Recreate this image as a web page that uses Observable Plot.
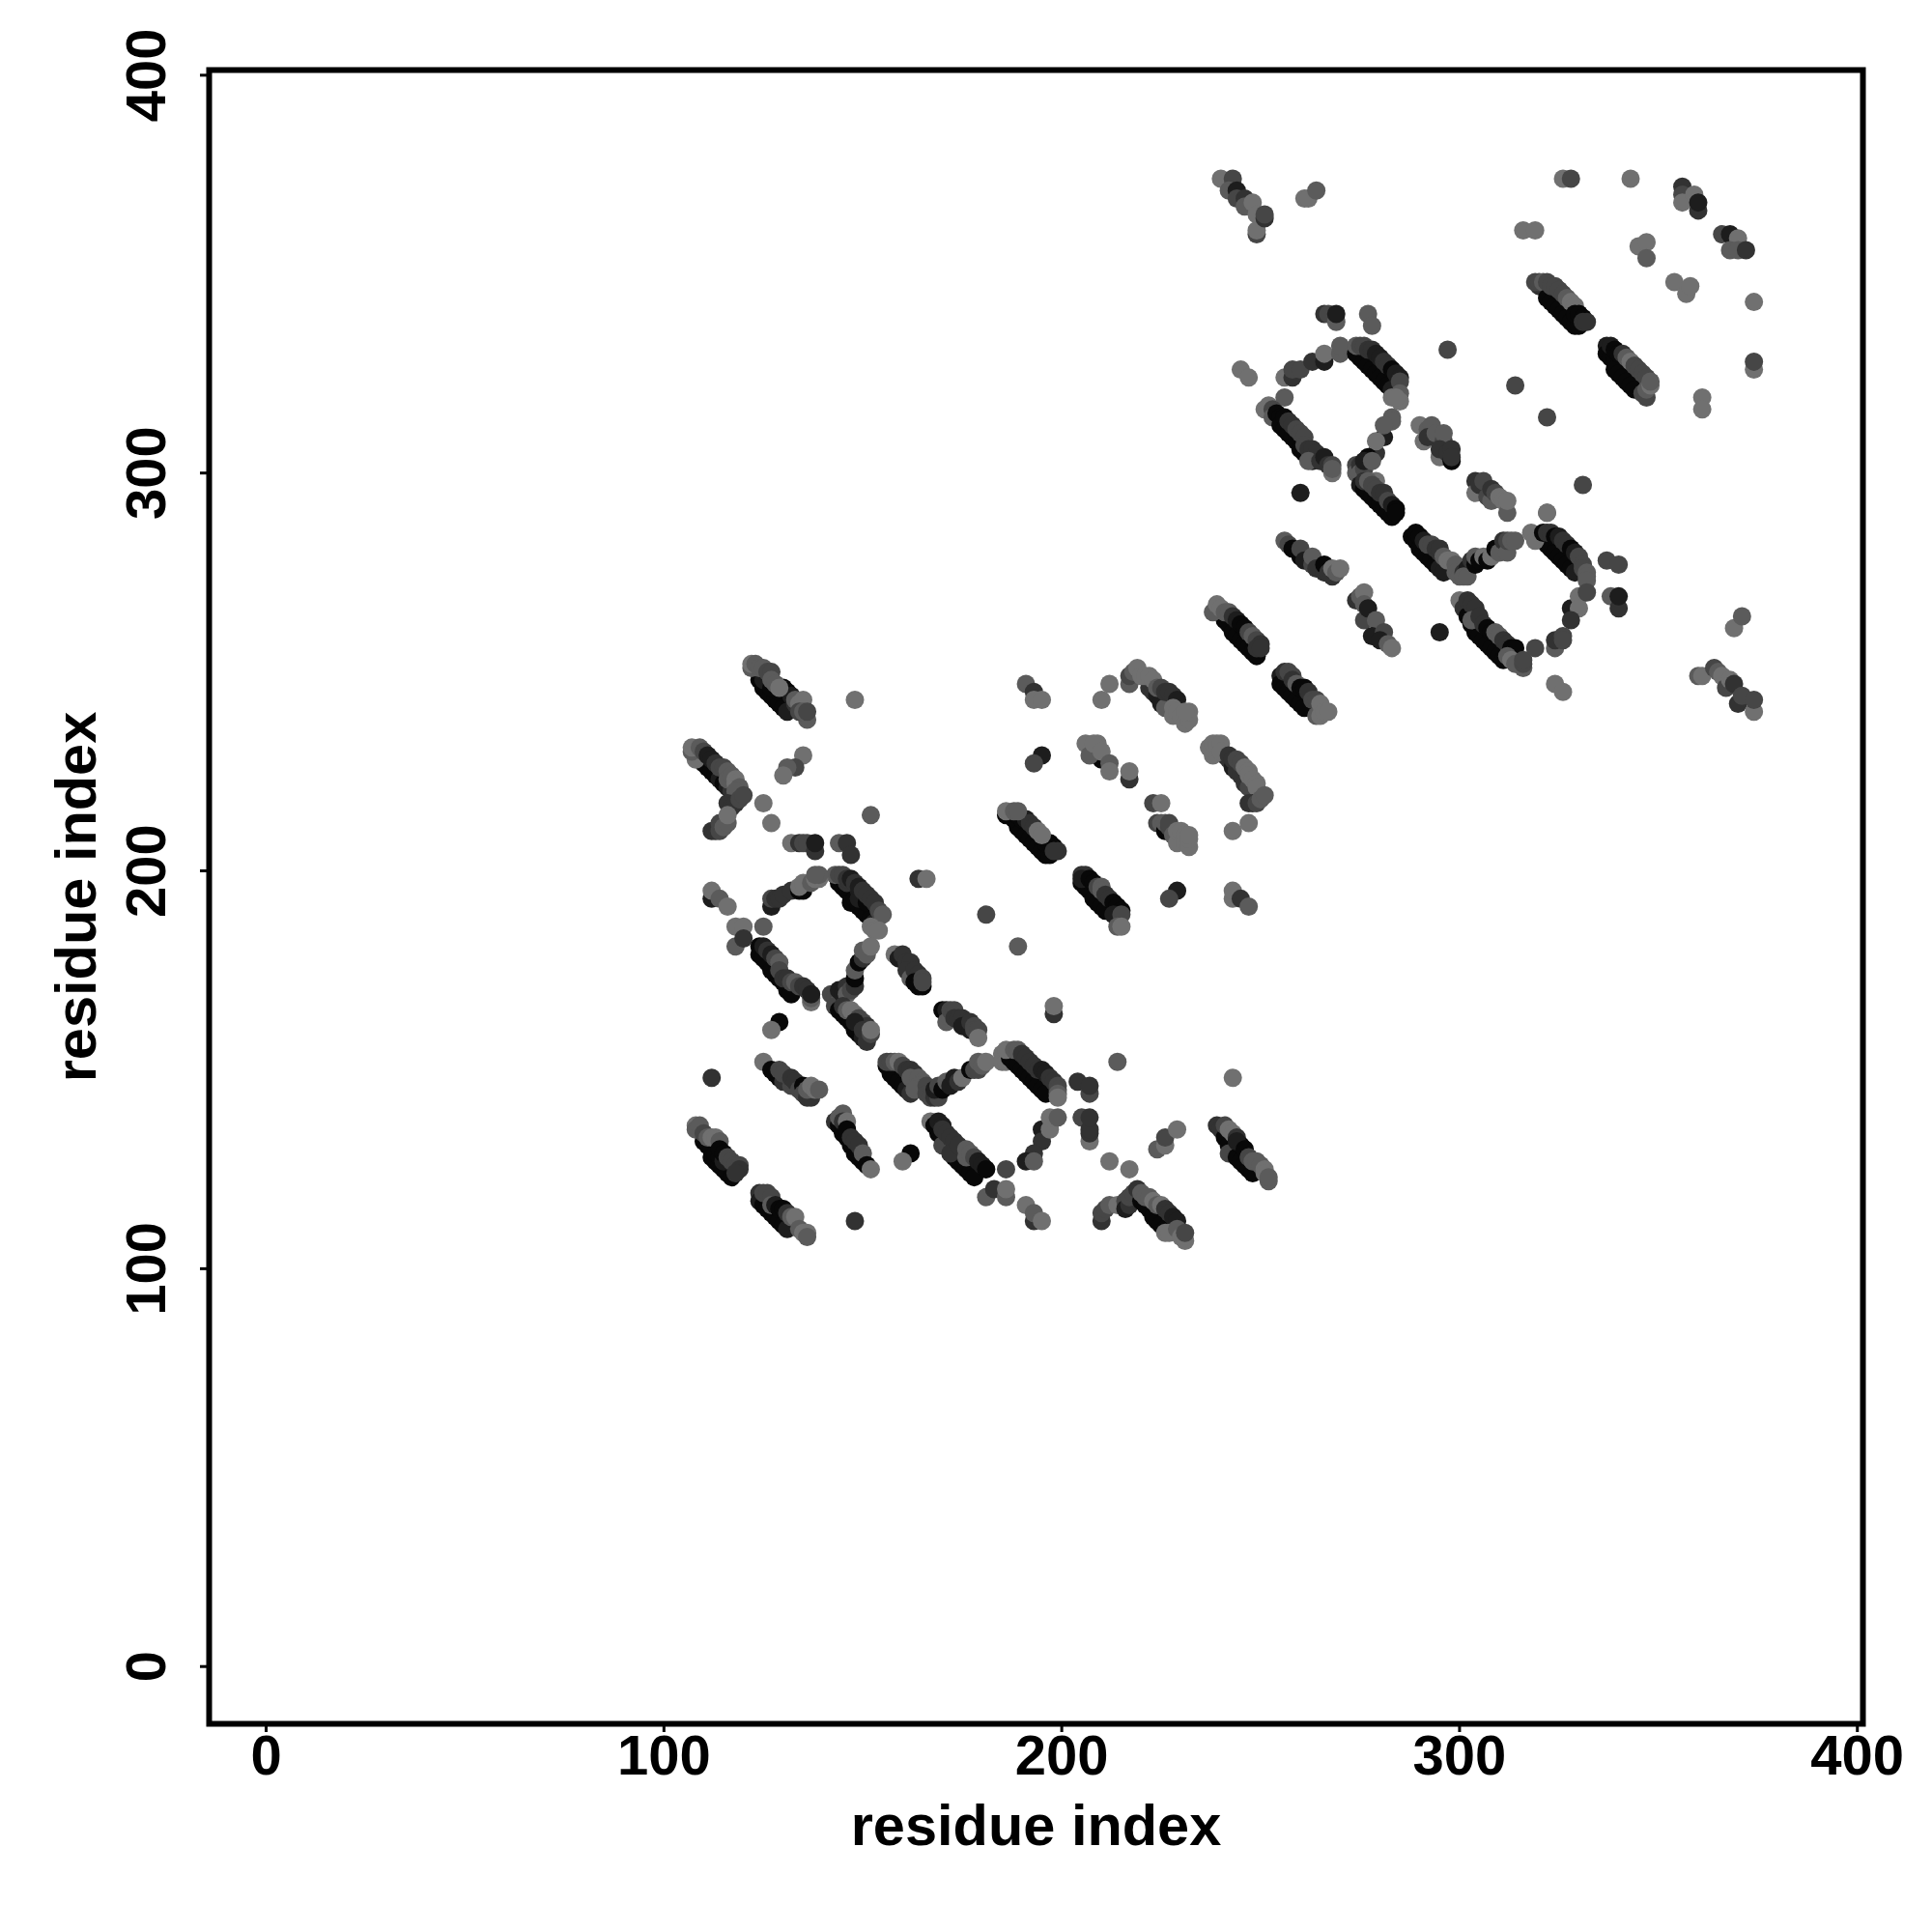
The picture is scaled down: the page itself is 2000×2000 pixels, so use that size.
<!DOCTYPE html>
<html><head><meta charset="utf-8">
<style>html,body{margin:0;padding:0;background:#fff}svg{display:block}</style>
<script src="https://cdn.jsdelivr.net/npm/d3@7"></script>
<script src="https://cdn.jsdelivr.net/npm/@observablehq/plot@0.6"></script>
</head><body><div id="chart"></div>
<script>
const xTicks=[0,100,200,300,400], yTicks=[0,100,200,300,400];
const axisTitle="residue index";
// each entry: [residue x, residue y, contact level 0..5]
const lowerA=[[124,248,5],[125,246,5],[126,245,5],[127,244,5],[128,243,5],[129,242,5],[130,241,5],[131,240,4],[125,248,4],[127,246,5],[129,245,5],[130,246,5],[131,245,5],[132,244,4],[133,242,3],[122,251,1],[122,252,0],[123,252,1],[124,251,1],[125,251,1],[126,250,2],[127,250,2],[127,248,1],[128,247,1],[129,246,0],[133,243,1],[134,242,0],[135,243,0],[136,238,1],[134,240,2],[135,240,1],[136,240,2],[148,243,0]];
const lowerB=[[110,227,5],[111,226,5],[112,225,5],[113,224,5],[114,223,4],[115,222,5],[116,221,4],[117,220,3],[108,228,0],[107,230,1],[107,231,0],[109,231,1],[110,230,2],[111,229,4],[112,228,4],[113,227,3],[114,226,2],[115,226,2],[116,225,1],[116,223,1],[117,224,1],[118,223,0],[118,222,0],[119,221,1],[118,220,1],[116,217,3],[117,216,3],[118,217,3],[119,218,2],[120,219,2],[112,210,3],[113,210,3],[114,210,2],[114,212,2],[115,211,1],[116,212,1],[116,214,0],[135,229,0],[133,226,2],[131,226,1],[130,224,0],[125,217,0],[127,212,0],[152,214,1]];
const lowerC=[[132,207,0],[134,207,3],[135,207,2],[136,207,2],[138,205,3],[138,207,4],[144,207,1],[146,207,3],[147,204,3],[112,193,4],[112,195,0],[114,193,1],[116,191,0],[164,198,3],[166,198,0],[181,189,2],[189,181,1]];
const lowerD=[[144,197,5],[145,196,5],[146,195,5],[147,194,5],[147,192,5],[148,193,5],[149,191,5],[150,190,5],[151,189,5],[152,188,5],[153,187,4],[146,197,3],[149,195,4],[149,193,4],[151,192,5],[143,199,1],[144,199,2],[145,199,2],[146,198,3],[147,198,4],[148,197,3],[149,196,4],[150,195,3],[151,194,3],[152,193,3],[153,192,3],[154,190,2],[155,189,1],[152,186,0],[153,185,0],[154,185,0],[127,191,4],[127,193,2],[128,193,3],[129,193,3],[130,194,3],[132,195,3],[134,195,5],[135,195,5],[134,196,0],[135,197,0],[137,197,1],[138,198,0],[139,198,0],[139,199,1],[138,199,1]];
const lowerE=[[118,186,0],[120,186,0],[125,186,1],[118,181,1],[120,183,3],[124,181,5],[124,179,5],[125,178,5],[126,177,5],[127,175,5],[128,174,5],[129,173,5],[130,172,5],[131,170,5],[132,169,5],[125,181,4],[126,180,3],[127,179,4],[128,178,2],[129,177,1],[129,175,2],[130,173,3],[131,173,3],[132,172,2],[133,172,1],[134,171,2],[135,171,3],[136,170,3],[137,167,0],[137,168,1],[137,169,4]];
const lowerF=[[142,169,2],[143,168,2],[144,167,1],[143,166,2],[144,170,4],[145,169,4],[146,171,3],[146,169,1],[147,170,2],[144,165,5],[145,164,5],[146,163,5],[147,162,5],[148,160,5],[149,159,5],[150,158,4],[151,157,3],[145,166,3],[146,165,1],[147,165,0],[148,164,0],[149,163,2],[150,162,2],[151,161,3],[148,162,4],[150,160,3],[152,159,2],[152,160,0],[148,171,3],[148,173,5],[148,175,1],[149,177,5],[150,178,3],[150,180,1],[151,179,1],[152,181,0]];
const lowerG=[[158,179,0],[159,178,4],[160,178,4],[160,179,3],[161,177,3],[162,177,3],[161,175,3],[162,173,1],[163,175,3],[164,174,3],[163,172,5],[164,171,5],[165,171,5],[165,173,2],[165,172,2],[170,165,5],[171,164,5],[171,165,4],[171,162,1],[172,163,1],[172,165,2],[173,165,2],[173,163,3],[174,163,3],[175,163,3],[176,162,3],[175,161,4],[177,160,4],[177,162,3],[178,161,2],[178,160,2],[179,160,2],[179,158,0]];
const lowerH=[[129,162,5],[127,160,0],[112,148,3],[125,152,0],[127,150,5],[128,149,5],[129,148,5],[130,147,3],[129,150,2],[130,149,2],[132,146,2],[132,148,3],[133,147,3],[134,145,2],[135,146,5],[135,144,2],[136,143,3],[137,143,3],[136,145,1],[137,146,0],[138,145,0],[139,145,1]];
const lowerI=[[143,137,3],[144,136,5],[144,138,1],[145,134,5],[146,133,5],[147,131,5],[148,129,5],[149,128,5],[150,127,5],[145,139,1],[145,137,3],[146,137,0],[146,135,5],[147,133,3],[148,132,3],[149,131,3],[150,129,1],[151,126,5],[152,125,0],[162,129,5],[160,127,0],[148,112,3]];
const lowerJ=[[156,151,5],[157,149,5],[158,148,5],[159,147,5],[160,146,5],[161,145,4],[162,144,3],[156,152,2],[157,152,2],[158,152,1],[159,152,0],[160,151,2],[161,150,3],[162,150,3],[163,149,3],[162,148,1],[164,148,1],[165,147,1],[164,146,1],[163,145,1],[166,146,2],[166,144,2],[167,143,2],[168,143,3],[169,143,2],[168,145,4],[169,146,2],[170,145,5],[171,147,1],[172,146,4],[173,148,4],[174,147,3],[175,148,0],[177,150,5],[178,150,2],[179,150,2],[179,152,1],[180,151,1],[181,152,0],[185,154,0],[185,152,0],[186,152,0]];
const lowerK=[[167,137,0],[168,136,5],[169,134,5],[170,133,5],[171,131,5],[172,130,5],[173,128,5],[174,127,5],[175,126,5],[176,125,5],[177,124,5],[178,123,5],[170,131,2],[169,137,4],[170,136,4],[170,135,3],[171,134,3],[172,133,3],[173,132,3],[172,129,3],[174,131,3],[176,128,1],[176,130,1],[177,129,1],[178,128,2],[179,127,4],[180,126,4],[181,125,5],[186,125,2],[181,118,1],[183,120,3],[186,118,1],[186,120,0],[191,116,0],[193,112,3],[193,114,1],[195,112,0]];
const lowerL=[[187,153,5],[188,152,5],[189,151,5],[190,150,5],[191,149,5],[192,148,5],[193,147,5],[194,146,5],[195,145,5],[196,144,5],[186,155,0],[188,155,1],[189,155,1],[190,154,3],[191,153,3],[192,152,3],[193,151,3],[194,150,3],[195,150,4],[196,149,4],[197,148,3],[198,147,3],[199,146,2],[199,145,2],[199,144,1],[199,143,0],[195,135,4],[195,132,3],[193,129,3],[191,127,4],[193,127,1],[197,135,0],[197,138,0],[199,138,1],[198,164,3],[198,166,0],[214,152,1],[243,148,0]];
const lowerM=[[204,147,3],[207,144,2],[207,146,3],[205,138,2],[207,132,0],[207,134,3],[207,135,3],[207,138,3],[212,127,0],[217,125,0],[224,130,1],[226,131,0],[226,133,2],[229,135,0]];
const lowerN=[[210,112,3],[210,114,2],[211,115,2],[212,116,1],[214,116,0],[216,117,2],[216,115,4],[217,116,3],[217,118,2],[218,119,2],[219,120,3],[220,117,5],[221,116,5],[222,115,5],[223,113,5],[224,112,5],[225,111,5],[226,110,5],[220,119,1],[221,118,1],[222,118,1],[223,117,0],[224,116,1],[225,116,0],[226,115,3],[227,114,3],[228,113,4],[229,112,4],[226,109,0],[227,109,0],[229,110,1],[230,108,0],[231,107,0],[231,109,2]];
const lowerO=[[110,132,5],[111,131,5],[112,130,5],[112,128,5],[113,127,5],[114,126,5],[115,125,5],[116,124,5],[117,123,5],[113,129,5],[114,128,5],[115,127,4],[108,136,0],[108,135,1],[109,136,1],[110,134,2],[111,133,1],[112,133,0],[113,133,0],[114,132,1],[114,130,5],[115,129,5],[116,128,2],[117,127,2],[118,126,2],[119,126,2],[119,125,3],[118,124,3]];
const lowerP=[[124,119,3],[124,117,4],[125,116,5],[126,115,5],[127,114,5],[128,113,5],[129,112,5],[130,111,5],[131,110,4],[125,119,2],[126,119,2],[127,118,2],[127,116,1],[128,116,4],[129,115,5],[130,115,5],[131,114,3],[132,113,1],[133,113,0],[134,110,1],[135,109,0],[136,109,0],[136,108,1]];
const lowerQ=[[239,136,3],[240,135,3],[241,133,5],[242,131,5],[243,130,5],[242,129,2],[244,128,5],[245,127,5],[246,126,5],[247,125,5],[248,124,5],[241,136,2],[242,135,0],[243,134,0],[244,133,3],[245,131,5],[244,132,4],[246,130,5],[247,128,2],[248,127,1],[249,127,1],[250,126,1],[251,125,0],[251,124,0],[252,122,1],[252,123,1]];
const middleA=[[191,247,1],[193,245,3],[193,243,0],[195,243,0],[212,247,0],[210,243,0],[217,247,1],[217,249,2],[218,250,1],[219,251,0],[222,246,3],[223,245,3],[224,244,4],[225,242,4],[226,241,1],[220,249,0],[221,249,0],[222,249,0],[223,248,0],[224,246,1],[225,246,2],[226,245,3],[227,245,3],[228,244,3],[229,243,4],[228,241,0],[228,239,0],[229,240,0],[230,239,0],[231,237,0],[232,238,0],[232,240,0],[231,240,0]];
const middleB=[[206,232,0],[210,228,5],[209,232,0],[207,229,1],[208,232,0],[210,230,0],[212,227,1],[212,225,0],[217,223,3],[217,225,0],[195,229,4],[193,227,2],[229,195,4],[227,193,2]];
const middleC=[[186,214,5],[188,213,5],[189,211,5],[190,210,5],[191,209,5],[192,208,5],[193,207,5],[194,206,5],[195,205,5],[196,204,5],[197,204,5],[189,214,5],[190,213,5],[191,213,4],[192,212,3],[193,211,3],[196,207,5],[197,207,5],[198,206,5],[186,215,0],[188,215,1],[189,215,1],[194,210,0],[195,209,0],[199,205,3],[198,205,3]];
const middleD=[[241,229,4],[242,228,3],[243,226,4],[244,225,3],[245,224,3],[246,222,3],[247,221,2],[238,229,0],[237,231,0],[238,232,0],[239,232,0],[240,232,0],[240,230,0],[242,229,3],[243,228,3],[244,228,2],[245,227,2],[246,226,0],[247,225,0],[247,224,0],[248,223,0],[249,222,0],[249,221,0],[248,217,3],[247,217,3],[249,217,2],[250,218,1],[251,219,1],[247,212,0],[243,210,0]];
const middleE=[[223,217,2],[225,217,0],[224,212,2],[225,212,1],[226,210,5],[226,212,1],[227,211,2],[227,212,2],[228,209,1],[229,207,0],[229,210,0],[230,210,0],[231,209,0],[231,207,0],[232,206,0],[232,208,0],[232,209,0],[243,193,0],[243,195,0],[245,193,3],[247,191,1]];
const middleF=[[205,197,5],[206,196,5],[207,195,5],[208,193,5],[209,192,5],[210,191,5],[211,190,5],[205,199,3],[206,199,3],[205,198,4],[207,198,5],[208,197,5],[209,196,2],[210,196,1],[210,195,1],[211,194,3],[212,193,3],[213,192,5],[214,191,5],[215,190,5],[213,189,4],[215,189,2],[214,186,1],[215,186,0]];
const middleG=[[255,249,4],[255,247,5],[256,246,5],[257,245,5],[258,244,5],[259,243,5],[260,242,5],[261,241,5],[256,250,3],[257,250,2],[258,249,2],[258,248,3],[259,247,1],[260,246,5],[261,246,5],[262,245,3],[263,243,2],[264,243,2],[264,239,1],[265,242,0],[265,239,0],[266,240,0],[267,240,0]];
const middleH=[[241,263,5],[241,265,2],[242,262,5],[243,260,5],[244,259,5],[245,258,5],[246,257,5],[247,256,5],[248,255,5],[249,254,5],[238,265,1],[239,267,0],[240,266,0],[241,265,1],[242,265,1],[243,264,3],[244,263,4],[245,262,5],[246,261,5],[247,260,2],[248,259,1],[249,258,2],[250,257,3],[249,256,3],[250,256,3]];
const upperA=[[260,295,4],[256,283,1],[257,282,2],[258,281,5],[260,279,5],[260,281,2],[261,278,4],[263,277,2],[263,279,1],[264,276,3],[266,275,3],[266,277,5],[267,275,3],[268,274,3],[268,276,0],[269,275,1],[270,276,0]];
const upperB=[[274,268,3],[275,269,1],[276,263,2],[276,270,0],[276,267,1],[277,266,4],[279,263,1],[278,259,4],[281,260,2],[280,258,4],[282,257,1],[283,256,0],[295,260,4]];
const upperC=[[288,284,5],[289,283,5],[290,281,5],[291,280,5],[292,279,5],[293,278,5],[294,277,5],[295,276,4],[296,275,4],[289,285,5],[290,284,5],[291,283,4],[292,282,2],[293,282,2],[294,281,3],[295,280,3],[295,281,3],[296,279,1],[297,278,0],[298,278,0],[299,277,1],[299,275,1],[300,274,1],[301,275,3],[302,276,4],[301,274,1],[302,274,1],[303,278,3],[304,277,5],[304,279,1],[305,278,5],[306,279,0],[307,278,5],[308,279,0],[309,281,5],[310,280,1],[311,283,3],[312,280,1],[312,283,2],[313,283,1],[314,283,1],[322,290,0]];
const upperD=[[300,268,0],[301,266,3],[302,264,5],[303,262,5],[304,260,5],[305,259,5],[306,258,5],[307,257,5],[308,256,5],[309,255,5],[310,254,5],[311,253,5],[302,268,3],[303,267,3],[304,266,3],[303,263,1],[305,264,3],[306,262,3],[307,261,5],[308,260,5],[309,260,1],[310,259,1],[311,258,3],[312,257,3],[313,256,5],[314,256,5],[312,254,1],[313,253,0],[314,252,1],[316,251,1],[316,252,2],[316,253,2],[319,256,2],[324,247,0],[326,245,0]];
const upperE=[[320,284,5],[321,283,5],[322,282,5],[323,281,5],[324,280,5],[325,279,5],[326,278,5],[327,277,5],[328,276,5],[329,275,4],[318,285,0],[319,283,0],[321,285,5],[322,285,3],[323,285,3],[324,284,5],[325,284,4],[326,283,3],[327,282,3],[328,281,5],[329,280,4],[330,279,2],[331,277,2],[331,276,2],[332,275,1],[332,274,1],[332,273,1],[328,266,4],[330,269,0],[330,266,0],[332,270,2],[328,263,3],[324,256,1],[324,258,3],[326,259,2],[326,258,2]];
const upperF=[[337,278,2],[340,277,2],[338,269,1],[340,266,3],[340,269,4],[331,297,2],[360,249,1],[361,249,0],[364,251,2],[365,250,1],[366,249,0],[367,246,2],[368,248,0],[369,247,3],[370,242,3],[371,244,2],[374,240,0],[374,243,2],[369,261,0],[371,264,1]];
const upperG=[[240,374,0],[243,374,2],[242,371,1],[244,371,4],[244,369,2],[246,369,3],[246,367,1],[248,368,0],[249,365,0],[249,360,2],[249,361,0],[251,364,3],[251,365,2],[261,369,0],[262,369,0],[264,371,1],[316,361,0],[319,361,0],[326,374,0],[328,374,2],[343,374,0]];
const upperH=[[356,372,3],[356,370,2],[356,368,0],[359,370,0],[360,366,3],[360,368,4],[366,360,2],[368,360,4],[370,359,0],[368,356,1],[370,356,1],[372,356,3],[345,357,0],[347,358,0],[347,354,1],[354,348,0],[357,345,0],[358,347,0],[374,343,0],[374,326,0],[374,328,2],[361,319,0],[361,316,0],[314,322,2],[322,314,2],[297,331,2]];
const upperI=[[320,347,3],[319,348,2],[320,348,2],[321,348,1],[322,344,5],[323,343,5],[324,342,5],[325,341,5],[326,340,5],[327,339,5],[328,338,5],[329,337,5],[330,337,5],[322,348,2],[323,347,2],[324,347,2],[325,346,2],[326,345,2],[327,344,1],[328,343,0],[329,342,0],[329,340,5],[330,340,5],[331,339,5],[331,338,3],[332,338,3]];
const upperJ=[[337,332,4],[337,330,5],[338,329,5],[339,328,5],[339,326,5],[340,325,5],[341,324,5],[342,323,5],[343,322,5],[344,321,5],[338,332,4],[339,331,5],[340,330,5],[341,330,3],[342,329,1],[343,328,0],[344,327,2],[345,326,2],[346,325,2],[347,324,2],[346,320,2],[347,319,2],[347,321,1],[348,322,0],[348,323,1]];
const upperK=[[245,326,0],[247,324,0],[266,340,3],[267,340,2],[269,338,1],[269,340,4],[277,340,1],[278,337,1],[256,324,0],[258,324,3],[258,326,2],[260,326,2],[263,328,3],[266,328,4],[266,330,0],[270,330,1],[270,332,1],[256,319,1]];
const upperL=[[251,316,0],[252,317,0],[253,316,2],[253,314,1],[254,315,5],[255,314,5],[255,312,5],[256,311,5],[257,310,5],[258,309,5],[259,308,5],[260,306,5],[261,305,5],[262,304,5],[263,303,4],[256,314,5],[257,313,3],[258,312,3],[259,311,2],[260,310,2],[261,309,2],[261,307,2],[262,306,3],[263,306,3],[264,305,3],[262,303,1],[265,303,3],[266,304,4],[267,302,3],[268,302,2],[268,300,0],[268,301,1]];
const upperM=[[274,330,5],[275,329,5],[276,328,5],[277,327,5],[278,326,5],[279,325,5],[280,324,5],[281,323,5],[282,322,5],[283,321,4],[274,332,1],[275,332,2],[276,332,2],[277,331,3],[278,331,3],[279,330,4],[280,329,4],[281,328,3],[282,327,3],[283,326,5],[284,325,4],[285,324,4],[285,323,2],[283,319,0],[285,320,1],[285,318,0],[284,319,0]];
const upperN=[[283,314,1],[283,313,1],[281,309,4],[281,312,1],[279,305,3],[279,308,0],[277,304,5],[277,303,5],[274,302,2],[274,300,1],[275,302,3],[275,300,1],[276,301,2],[276,303,4],[278,303,1],[279,298,0],[275,297,4],[276,296,5],[277,295,5],[278,294,5],[279,293,5],[280,292,5],[281,291,5],[282,290,5],[283,289,5],[276,298,3],[277,298,1],[278,297,2],[279,296,2],[280,295,3],[281,295,3],[282,293,2],[283,292,4],[284,291,5],[284,290,5]];
const upperO=[[290,312,0],[291,308,0],[292,311,1],[293,312,1],[292,309,3],[294,310,1],[295,304,0],[296,308,2],[296,310,1],[295,306,3],[297,305,3],[298,303,5],[298,306,3],[298,304,3],[304,298,3],[304,295,0],[305,297,3],[306,298,2],[307,294,2],[308,293,1],[308,296,3],[309,295,2],[310,294,0],[311,293,0],[312,290,1],[312,293,0],[322,290,0]];
const contacts=[lowerA,lowerB,lowerC,lowerD,lowerE,lowerF,lowerG,lowerH,lowerI,lowerJ,lowerK,lowerL,lowerM,lowerN,lowerO,lowerP,lowerQ,middleA,middleB,middleC,middleD,middleE,middleF,middleG,middleH,upperA,upperB,upperC,upperD,upperE,upperF,upperG,upperH,upperI,upperJ,upperK,upperL,upperM,upperN,upperO].flat();
const font="'Liberation Sans',Arial,Helvetica,sans-serif";
const chart=Plot.plot({
  width:2000,height:2000,
  marginLeft:216,marginRight:72,marginTop:72,marginBottom:216,
  style:{background:"#fff",fontFamily:font},
  x:{domain:[-14.33,401.4],label:null},
  y:{domain:[-14.4,401.3],label:null},
  color:{type:"linear",domain:[0,5],range:["#707070","#080808"]},
  marks:[
    Plot.dot(contacts,{x:d=>d[0],y:d=>d[1],fill:d=>d[2],r:9.5}),
    Plot.frame({stroke:"#000",strokeWidth:6}),
    Plot.axisX({ticks:xTicks,tickSize:9,tickPadding:2,tickFormat:d=>String(d),fontSize:58,fontWeight:"bold",strokeWidth:3,label:null}),
    Plot.axisY({ticks:yTicks,tickSize:9,tickPadding:37,tickRotate:-90,textAnchor:"middle",tickFormat:d=>String(d),fontSize:58,fontWeight:"bold",strokeWidth:3,label:null}),
    Plot.text([axisTitle],{frameAnchor:"bottom",dy:125,lineAnchor:"bottom",fontSize:59.5,fontWeight:"bold",fill:"#000"}),
    Plot.text([axisTitle],{frameAnchor:"left",dx:-118,rotate:-90,textAnchor:"middle",lineAnchor:"bottom",fontSize:59.5,fontWeight:"bold",fill:"#000"})
  ]
});
document.getElementById("chart").appendChild(chart);
</script></body></html>
